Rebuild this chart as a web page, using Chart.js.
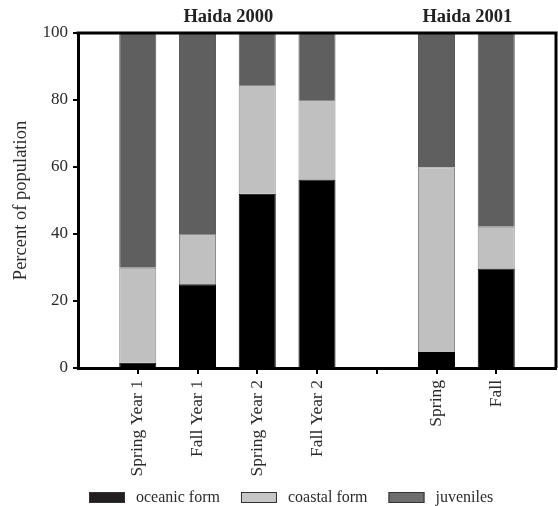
<!DOCTYPE html>
<html>
<head>
<meta charset="utf-8">
<script src="https://cdn.jsdelivr.net/npm/chart.js@4.4.1/dist/chart.umd.min.js"></script>
<style>
    html, body { margin: 0; padding: 0; background: #fff; }
    #wrap { width: 558px; height: 506px; }
</style>
</head>
<body>
<div id="wrap"><canvas id="bars" width="558" height="506"></canvas></div>
<script>
/*
        Stacked percent bars for Haida 2000 / 2001.
    Empty labels keep the gaps at the ends and between the two years.
*/

const categories = ["", "Spring Year 1", "Fall Year 1", "Spring Year 2", "Fall Year 2", "", "Spring", "Fall", ""];
const oceanic = [null, 1.6, 25, 52, 56.3, null, 4.8, 29.7, null];
const coastal = [null, 28.3, 15, 32.5, 23.7, null, 55.1, 12.5, null];
const juveniles = [null, 70.1, 60, 15.5, 20, null, 40.1, 57.8, null];
const yTicks = [0, 20, 40, 60, 80, 100];
const groupTitles = [
    { text: "Haida 2000", from: 1, to: 4 },
    { text: "Haida 2001", from: 6, to: 7 },
];

const serif = "'Liberation Serif', 'Times New Roman', serif";
const textColor = "#2b2b2b";
const lastIndex = categories.length - 1;

// Top and right frame lines, group titles and the legend row
const framePlugin = {
    id: "frame",
    afterDraw(chart) {
        const ctx = chart.ctx;
        const area = chart.chartArea;
        const x = chart.scales.x;

        ctx.save();
        ctx.strokeStyle = "#000";
        ctx.lineWidth = 3;
        ctx.beginPath();
        ctx.moveTo(area.left - 1.5, area.top);
        ctx.lineTo(area.right, area.top);
        ctx.lineTo(area.right, area.bottom);
        ctx.stroke();

        ctx.fillStyle = "#222";
        ctx.font = "bold 18.5px " + serif;
        ctx.textAlign = "center";
        ctx.textBaseline = "middle";
        groupTitles.forEach((g) => {
            const cx = (x.getPixelForValue(g.from) + x.getPixelForValue(g.to)) / 2;
            ctx.fillText(g.text, cx + 1, 17);
        });

        // Legend
        let lx = 89;
        const ly = 492;
        ctx.font = "16px " + serif;
        ctx.textAlign = "left";
        chart.data.datasets.forEach((ds) => {
            ctx.fillStyle = ds.legendColor;
            ctx.fillRect(lx, ly, 36, 11);
            ctx.strokeStyle = "#333";
            ctx.lineWidth = 1;
            ctx.strokeRect(lx + 0.5, ly + 0.5, 35, 10);
            ctx.fillStyle = textColor;
            ctx.fillText(ds.label, lx + 47, ly + 6);
            lx += 47 + ctx.measureText(ds.label).width + 21;
        });
        ctx.restore();
    },
};

new Chart(document.getElementById("bars").getContext("2d"), {
    type: "bar",
    plugins: [framePlugin],
    data: {
        labels: categories,
        datasets: [
            {
                label: "oceanic form",
                data: oceanic,
                backgroundColor: "#000000",
                borderColor: "#000000",
                borderWidth: 1,
                legendColor: "#231f20",
            },
            {
                label: "coastal form",
                data: coastal,
                backgroundColor: "#c0c0c0",
                borderColor: "#8c8c8c",
                borderWidth: 1,
                legendColor: "#c6c6c6",
            },
            {
                label: "juveniles",
                data: juveniles,
                backgroundColor: "#5f5f5f",
                borderColor: "#5a5a5a",
                borderWidth: 1,
                legendColor: "#6e6e6e",
            },
        ],
    },
    options: {
        responsive: false,
        animation: false,
        categoryPercentage: 1,
        barPercentage: 0.62,
        layout: { padding: { top: 33, right: 2, bottom: 0, left: 0 } },
        plugins: {
            legend: { display: false },
            tooltip: { enabled: false },
        },
        scales: {
            x: {
                stacked: true,
                offset: false,
                afterFit: (scale) => {
                    scale.height = 138;
                    scale.paddingLeft = 0;
                    scale.paddingRight = 0;
                },
                border: { display: true, color: "#000", width: 3 },
                grid: {
                    offset: false,
                    drawOnChartArea: false,
                    drawTicks: true,
                    tickLength: 6,
                    lineWidth: 2,
                    tickColor: (c) => (c.index === 0 || c.index === lastIndex ? "rgba(0,0,0,0)" : "#000"),
                },
                ticks: {
                    autoSkip: false,
                    minRotation: 90,
                    maxRotation: 90,
                    padding: 6,
                    color: textColor,
                    font: { family: serif, size: 17.5 },
                },
            },
            y: {
                stacked: true,
                min: 0,
                max: 100,
                afterFit: (scale) => { scale.width = 78; },
                afterBuildTicks: (scale) => { scale.ticks = yTicks.map((v) => ({ value: v })); },
                border: { display: true, color: "#000", width: 3 },
                grid: {
                    drawOnChartArea: false,
                    drawTicks: true,
                    tickLength: 5,
                    lineWidth: 2,
                    tickColor: "#000",
                },
                ticks: {
                    padding: 5,
                    color: textColor,
                    font: { family: serif, size: 17 },
                },
                title: {
                    display: true,
                    text: "Percent of population",
                    color: textColor,
                    padding: { top: 10, bottom: 0 },
                    font: { family: serif, size: 18.5 },
                },
            },
        },
    },
});
</script>
</body>
</html>
